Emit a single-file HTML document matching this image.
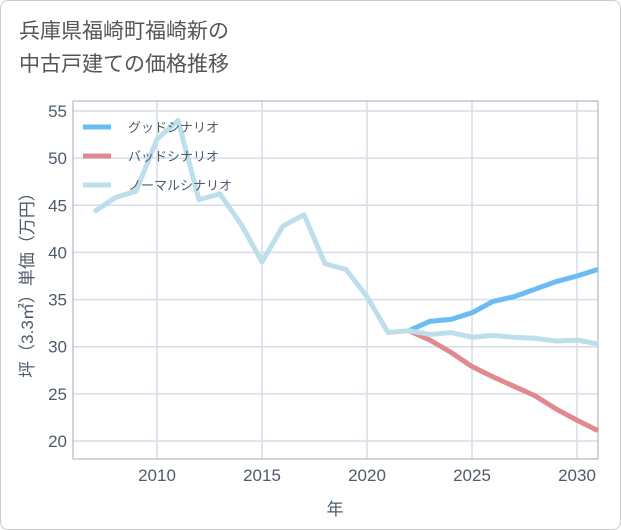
<!DOCTYPE html>
<html><head><meta charset="utf-8"><style>
body{margin:0;background:#fff;}
#wrap{position:relative;width:619px;height:528px;border:1px solid #ccc;border-radius:8px;overflow:hidden;background:#fff;font-family:"Liberation Sans","Noto Sans CJK JP",sans-serif;}
#title{position:absolute;left:18px;top:14px;font-size:21px;line-height:33px;color:#555;}
</style></head><body>
<div id="wrap">
<div id="title">兵庫県福崎町福崎新の<br>中古戸建ての価格推移</div>
<svg id="chart" width="619" height="528" style="position:absolute;left:0;top:0"></svg>
</div>
<script>
const years=[2007,2008,2009,2010,2011,2012,2013,2014,2015,2016,2017,2018,2019,2020,2021,2022,2023,2024,2025,2026,2027,2028,2029,2030,2031];
const normalValues=[44.3,45.8,46.5,52,54,45.6,46.2,43,39,42.8,44,38.8,38.2,35.3,31.5,31.7,31.3,31.5,31.0,31.2,31.0,30.9,30.6,30.7,30.3];
const goodYears=[2022,2023,2024,2025,2026,2027,2028,2029,2030,2031];
const goodValues=[31.7,32.7,32.9,33.6,34.8,35.3,36.1,36.9,37.5,38.2];
const badValues=[31.7,30.7,29.4,27.9,26.8,25.8,24.8,23.4,22.2,21.1];
const yTicks=[20,25,30,35,40,45,50,55];
const xTicks=[2010,2015,2020,2025,2030];
const legendLabels=["グッドシナリオ","バッドシナリオ","ノーマルシナリオ"];

const NS="http://www.w3.org/2000/svg";
const svg=document.getElementById('chart');
const L=72,R=597,T=100,B=458;
const TXT='#4f5b6b';
const x=v=>156+(v-2010)*21;
const y=v=>110+(55-v)*(330/35);
function mk(t,a){const e=document.createElementNS(NS,t);for(const k in a)e.setAttribute(k,a[k]);svg.appendChild(e);return e;}
yTicks.forEach(v=>{
 const g=mk('line',{x1:L,x2:R,y1:y(v),y2:y(v),stroke:'#d5dee8','stroke-width':1.5});
 
 
 const t=mk('text',{x:L-6,y:y(v)+6,'text-anchor':'end','font-size':17,fill:TXT});
 t.textContent=v;
 
 
});
xTicks.forEach(v=>{
 const g=mk('line',{x1:x(v),x2:x(v),y1:T,y2:B,stroke:'#d5dee8','stroke-width':1.5});
 
 
 const t=mk('text',{x:x(v),y:B+22,'text-anchor':'middle','font-size':17,fill:TXT});
 t.textContent=v;
 
 
});
const frame=mk('rect',{x:L,y:T,width:R-L,height:B-T,fill:'none',stroke:'#aab','stroke-width':1});


function line(xs,vs,color,name){
 const p=mk('polyline',{points:xs.map((yr,i)=>x(yr)+','+y(vs[i])).join(' '),fill:'none',stroke:color,'stroke-width':5,'stroke-linejoin':'round'});
 
 
}
line(goodYears,badValues,'#e08a90','bad-scenario-line');
line(goodYears,goodValues,'#6bbcf2','good-scenario-line');
line(years,normalValues,'#bcdfeb','normal-scenario-line');
const colors=['#6bbcf2','#e08a90','#bcdfeb'];
legendLabels.forEach((s,i)=>{
 const ly=126+i*29;
 const l=mk('line',{x1:82,x2:110,y1:ly,y2:ly,stroke:colors[i],'stroke-width':5});
 
 
 const t=mk('text',{x:127,y:ly+5,'font-size':13,fill:TXT});
 t.textContent=s;
 
 
});
const xt=mk('text',{x:334,y:514,'text-anchor':'middle','font-size':17,fill:TXT});
xt.textContent='年';


const yt=mk('text',{x:0,y:0,'text-anchor':'middle','font-size':17,fill:TXT,transform:'translate(32,280) rotate(-90)'});
yt.textContent='坪（3.3㎡）単価（万円）';


</script>
</body></html>
